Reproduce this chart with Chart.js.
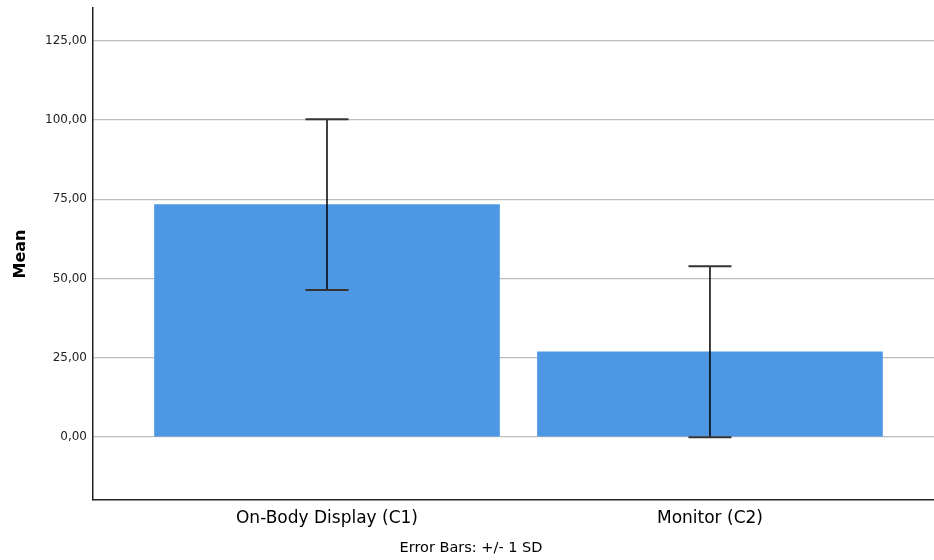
<!DOCTYPE html>
<html>
<head>
<meta charset="utf-8">
<script src="https://cdn.jsdelivr.net/npm/chart.js@4.4.0/dist/chart.umd.min.js"></script>
<style>
    html, body { margin: 0; padding: 0; background: #fff; }
    #wrap { width: 934px; height: 560px; }
</style>
</head>
<body>
<div id="wrap"><canvas id="chart" width="934" height="560"></canvas></div>
<script>
// DATA
const categories = ['On-Body Display (C1)', 'Monitor (C2)'];
const means = [73.3, 26.8];
const sds = [27.0, 27.0];
const yTicks = [0, 25, 50, 75, 100, 125];
const footnote = 'Error Bars: +/- 1 SD';

const FONT = "'DejaVu Sans', 'Liberation Sans', sans-serif";

// error bars drawn through the scales, plus the footnote
const errorBars = {
    id: 'errorBars',
    afterDatasetsDraw(chart) {
        const { ctx, scales: { x, y } } = chart;
        ctx.save();
        means.forEach((m, i) => {
            const cx = x.getPixelForValue(i);
            const top = y.getPixelForValue(m + sds[i]);
            const bot = y.getPixelForValue(m - sds[i]);
            ctx.strokeStyle = '#000';
            ctx.lineWidth = 1.5;
            ctx.beginPath();
            ctx.moveTo(cx, top);
            ctx.lineTo(cx, bot);
            ctx.stroke();
            ctx.strokeStyle = '#333';
            ctx.lineWidth = 2;
            ctx.beginPath();
            ctx.moveTo(cx - 21.5, top);
            ctx.lineTo(cx + 21.5, top);
            ctx.moveTo(cx - 21.5, bot);
            ctx.lineTo(cx + 21.5, bot);
            ctx.stroke();
        });
        ctx.fillStyle = '#000';
        ctx.font = `14.5px ${FONT}`;
        ctx.textAlign = 'center';
        ctx.textBaseline = 'middle';
        ctx.fillText(footnote, 471, 548);
        ctx.restore();
    }
};

const ctx = document.getElementById('chart').getContext('2d');
new Chart(ctx, {
    type: 'bar',
    data: {
        datasets: [{
            data: means.map((v, i) => ({ x: i, y: v })),
            backgroundColor: '#4E98E3',
            borderWidth: 0,
            barThickness: 345
        }]
    },
    options: {
        responsive: false,
        animation: false,
        layout: { padding: { top: 8, right: 0, left: 0, bottom: 0 } },
        plugins: {
            legend: { display: false },
            tooltip: { enabled: false }
        },
        scales: {
            x: {
                type: 'linear',
                offset: false,
                min: -0.611,
                max: 1.585,
                afterBuildTicks: s => { s.ticks = categories.map((c, i) => ({ value: i })); },
                afterFit: s => { s.height = 60; },
                ticks: {
                    callback: v => categories[v],
                    color: '#000',
                    font: { family: FONT, size: 17 },
                    padding: 8,
                    maxRotation: 0,
                    autoSkip: false
                },
                grid: { display: false, drawTicks: false },
                border: { color: '#222', width: 1.5 }
            },
            y: {
                min: -20,
                max: 135.4,
                afterBuildTicks: s => { s.ticks = yTicks.map(v => ({ value: v })); },
                afterFit: s => { s.width = 93; s.paddingTop = 0; s.paddingBottom = 0; },
                ticks: {
                    callback: v => v.toFixed(2).replace('.', ','),
                    color: '#222',
                    font: { family: FONT, size: 12 },
                    padding: 6
                },
                grid: { color: '#bdbdbd', lineWidth: 1.2, drawTicks: false },
                border: { color: '#222', width: 1.5 },
                title: {
                    display: true,
                    text: 'Mean',
                    color: '#000',
                    font: { family: FONT, size: 16, weight: 'bold' },
                    padding: { top: 11, bottom: 0 }
                }
            }
        }
    },
    plugins: [errorBars]
});
</script>
</body>
</html>
